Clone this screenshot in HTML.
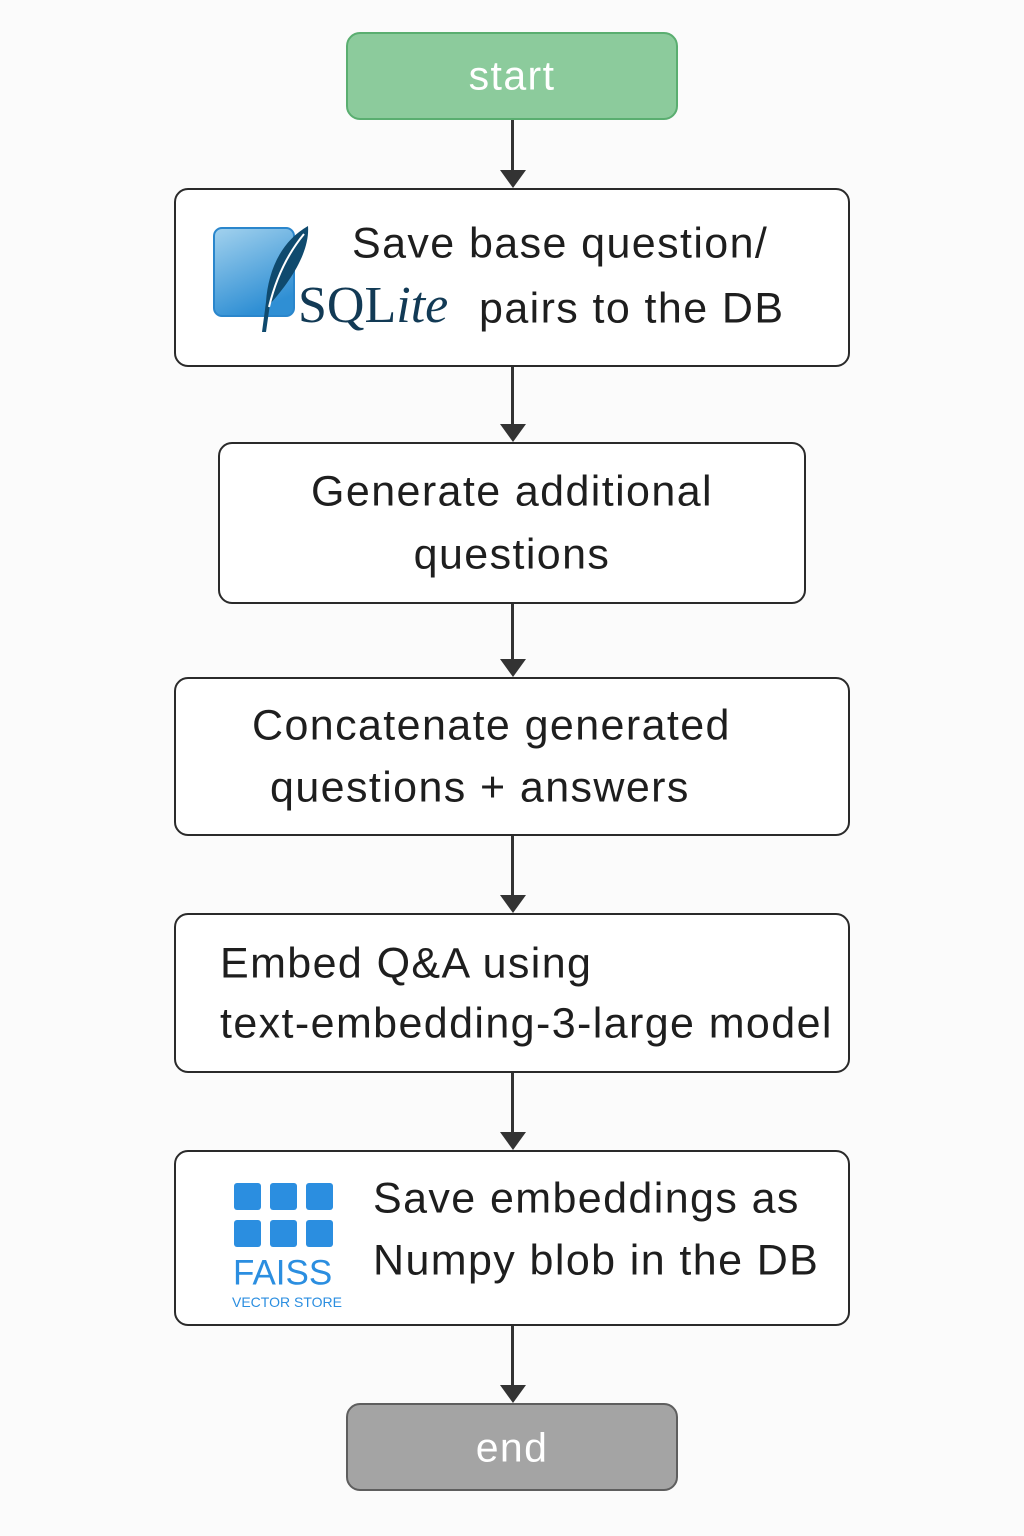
<!DOCTYPE html>
<html><head><meta charset="utf-8"><style>
body{margin:0;width:1024px;height:1536px;background:#fbfbfb;position:relative;overflow:hidden;font-family:"Liberation Sans",sans-serif;color:#1e1e1e}
.b{position:absolute;box-sizing:border-box;border:2.5px solid #2a2a2a;border-radius:14px;background:#fff}
.t{position:absolute;font-size:43px;letter-spacing:1.4px;line-height:1;white-space:nowrap;transform:translateY(-50%)}
.l{position:absolute;left:511px;width:2.5px;background:#333}
.a{position:absolute;left:500px;width:0;height:0;border-left:13px solid transparent;border-right:13px solid transparent;border-top:18px solid #333}
</style></head><body>
<div class="b" style="left:346px;top:32px;width:332px;height:88px;background:#8ccb9c;border-color:#5aae70"></div>
<div class="t" style="left:346px;width:332px;text-align:center;top:76px;color:#fff;font-size:41px">start</div>

<div class="l" style="top:120px;height:52px"></div><div class="a" style="top:170px"></div>
<div class="b" style="left:174px;top:188px;width:676px;height:179px"></div>
<svg style="position:absolute;left:210px;top:222px" width="110" height="115">
<defs><linearGradient id="g" x1="0" y1="0" x2="0.4" y2="1"><stop offset="0" stop-color="#a3d2ee"/><stop offset="1" stop-color="#2f8fd4"/></linearGradient></defs>
<rect x="4" y="6" width="80" height="88" rx="8" fill="url(#g)" stroke="#2a86cc" stroke-width="2"/>
<path d="M98 4 C70 20 58 50 56 80 L52 110 L56 110 L60 82 C80 60 100 30 98 4Z" fill="#0f4a6e"/>
<path d="M94 12 C75 35 65 60 59 85" stroke="#fff" stroke-width="2" fill="none"/>
</svg>
<div class="t" style="left:298px;top:306px;font-family:'Liberation Serif',serif;font-size:52px;letter-spacing:0;color:#123a55">SQL<i>ite</i></div>
<div class="t" style="left:352px;top:244px">Save base question/</div>
<div class="t" style="left:479px;top:309px">pairs to the DB</div>

<div class="l" style="top:367px;height:59px"></div><div class="a" style="top:424px"></div>
<div class="b" style="left:218px;top:442px;width:588px;height:162px"></div>
<div class="t" style="left:218px;width:588px;text-align:center;top:492px">Generate additional</div>
<div class="t" style="left:218px;width:588px;text-align:center;top:555px">questions</div>

<div class="l" style="top:604px;height:57px"></div><div class="a" style="top:659px"></div>
<div class="b" style="left:174px;top:677px;width:676px;height:159px"></div>
<div class="t" style="left:252px;top:726px">Concatenate generated</div>
<div class="t" style="left:270px;top:788px">questions + answers</div>

<div class="l" style="top:836px;height:61px"></div><div class="a" style="top:895px"></div>
<div class="b" style="left:174px;top:913px;width:676px;height:160px"></div>
<div class="t" style="left:220px;top:964px">Embed Q&amp;A using</div>
<div class="t" style="left:220px;top:1024px">text-embedding-3-large model</div>

<div class="l" style="top:1073px;height:61px"></div><div class="a" style="top:1132px"></div>
<div class="b" style="left:174px;top:1150px;width:676px;height:176px"></div>
<svg style="position:absolute;left:232px;top:1182px" width="104" height="66">
<g fill="#2b8ee0"><rect x="2" y="1" width="27" height="27" rx="3"/><rect x="38" y="1" width="27" height="27" rx="3"/><rect x="74" y="1" width="27" height="27" rx="3"/>
<rect x="2" y="38" width="27" height="27" rx="3"/><rect x="38" y="38" width="27" height="27" rx="3"/><rect x="74" y="38" width="27" height="27" rx="3"/></g></svg>
<div class="t" style="left:233px;top:1273px;font-size:35px;letter-spacing:0;color:#2b8ee0">FAISS</div>
<div class="t" style="left:232px;top:1302px;font-size:14px;letter-spacing:0;color:#2b8ee0">VECTOR STORE</div>
<div class="t" style="left:373px;top:1199px">Save embeddings as</div>
<div class="t" style="left:373px;top:1261px">Numpy blob in the DB</div>

<div class="l" style="top:1326px;height:61px"></div><div class="a" style="top:1385px"></div>
<div class="b" style="left:346px;top:1403px;width:332px;height:88px;background:#a4a4a4;border-color:#5e5e5e"></div>
<div class="t" style="left:346px;width:332px;text-align:center;top:1448px;color:#fff;font-size:41px">end</div>
</body></html>
